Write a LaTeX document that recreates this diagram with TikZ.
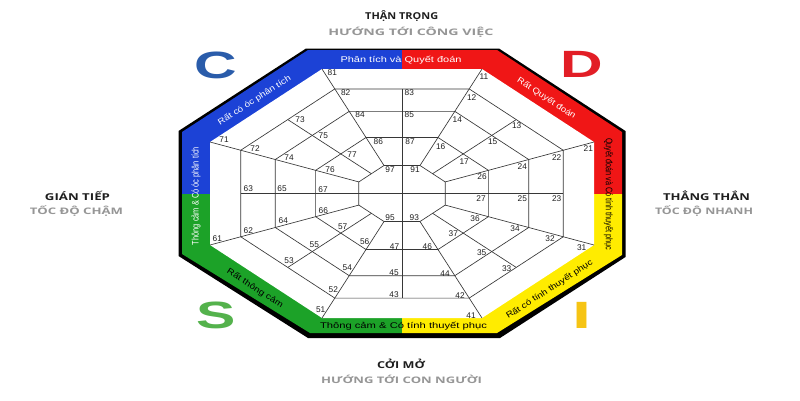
\documentclass[tikz,border=0pt]{standalone}
\usepackage{fontspec}
\usepackage{graphicx}
\setmainfont{Liberation Sans}
\newfontfamily\headfont{Open Sans}
\definecolor{discblue}{RGB}{28,66,214}
\definecolor{discred}{RGB}{240,22,22}
\definecolor{discgreen}{RGB}{28,162,40}
\definecolor{discyellow}{RGB}{255,236,0}
\definecolor{letC}{RGB}{42,92,170}
\definecolor{letD}{RGB}{226,30,38}
\definecolor{letS}{RGB}{84,178,76}
\definecolor{letI}{RGB}{246,196,20}
\definecolor{gridcol}{RGB}{55,55,55}
\definecolor{headgray}{RGB}{150,150,150}
\definecolor{headdark}{RGB}{30,30,30}
\newcommand{\fitw}[2]{\resizebox{#1}{\height}{#2}}
\begin{document}
\begin{tikzpicture}[x=1pt,y=-1pt,
  gridline/.style={draw=gridcol,line width=0.65pt},
  num/.style={inner sep=0pt,font=\fontsize{8.3}{9}\selectfont,text=headdark},
  txt/.style={inner sep=0pt,outer sep=0pt},
  headA/.style={txt,anchor=base,font=\headfont\bfseries\fontsize{9.5}{10}\selectfont,text=headdark},
  headB/.style={txt,anchor=base,font=\headfont\bfseries\fontsize{9}{10}\selectfont,text=headgray},
  bandtxt/.style={txt,font=\fontsize{8.3}{9}\selectfont},
  sidetxt/.style={txt,font=\fontsize{9.5}{10}\selectfont},
  bigletter/.style={txt,font=\bfseries\fontsize{38}{40}\selectfont}
]
\useasboundingbox (0,0) rectangle (800,400);
\fill[white] (0,0) rectangle (800,400);

% shadow outline
\fill[black] (306,48.5) -- (499,48.5) -- (625.5,131) -- (625.5,257) -- (500,338) -- (308,338) -- (178.5,256) -- (178.5,131) -- cycle;

% coloured band
\begin{scope}
\clip (308,50) -- (497,50) -- (622,132) -- (622,255) -- (497,333) -- (310,333) -- (182,254) -- (182,132) -- cycle;
\fill[discblue] (170,40) rectangle (402,193.5);
\fill[discred] (402,40) rectangle (640,193.5);
\fill[discgreen] (170,193.5) rectangle (402,345);
\fill[discyellow] (402,193.5) rectangle (640,345);
\end{scope}

% inner white octagon
\fill[white] (322,69) -- (482,69) -- (594,142) -- (594,245) -- (482,318) -- (322,318) -- (210,245) -- (210,142) -- cycle;

% rings
\foreach \s in {0.84,0.66,0.45,0.225}{
  \draw[gridline] (402-80*\s,193.5-124.5*\s) -- (402+80*\s,193.5-124.5*\s) -- (402+192*\s,193.5-51.5*\s) -- (402+192*\s,193.5+51.5*\s) -- (402+80*\s,193.5+124.5*\s) -- (402-80*\s,193.5+124.5*\s) -- (402-192*\s,193.5+51.5*\s) -- (402-192*\s,193.5-51.5*\s) -- cycle;
}
% radials
\foreach \dx/\dy in {-80/-124.5, 80/-124.5, 192/-51.5, 192/51.5, 80/124.5, -80/124.5, -192/51.5, -192/-51.5}{
  \draw[gridline] (402+\dx,193.5+\dy) -- (402+0.225*\dx,193.5+0.225*\dy);
}
% axes
\draw[gridline] (402,193.5-124.5*0.84) -- (402,193.5+124.5*0.84);
\draw[gridline] (402-192*0.84,193.5) -- (402+192*0.84,193.5);
% diagonal middle lines
\foreach \dx/\dy in {-136/-88, 136/-88, 136/88, -136/88}{
  \draw[gridline] (402+0.84*\dx,193.5+0.84*\dy) -- (402+0.225*\dx,193.5+0.225*\dy);
}

% numbers
\foreach \t/\x/\y in {81/332.3/72.3, 82/345.7/92.3, 84/360/115, 86/378.3/141.5, 97/390/169.5,
  83/409.3/92.3, 85/409.3/115, 87/410/141.5,
  73/300/120, 75/323.3/135.7, 77/352/154.3,
  71/224/140, 72/255/149, 74/289/158, 76/330/169.3,
  63/248.3/189, 65/282/189, 67/323/189.5,
  66/323.3/210.7, 64/283.3/221, 62/248.3/230.7, 61/217.3/238.3,
  57/342.7/227, 55/314.3/245, 53/289/261,
  56/364.7/241.3, 54/347.3/267.3, 52/333.3/289.3, 51/320.7/310,
  95/390/217.5, 47/394.5/246.3, 45/394/272.7, 43/394/295,
  11/484/76.7, 12/471.7/97.3, 14/457.3/120, 16/440.7/147, 91/415/170,
  13/516.7/126, 15/492.7/141.7, 17/464.2/161.7,
  21/588.3/148.3, 22/556.7/157.3, 24/522.3/166.7, 26/482/177,
  27/481/198.5, 25/522.3/198.3, 23/556.7/198.3,
  93/414.3/218, 36/475/219, 34/515/229, 32/550/239, 31/581.7/247.3,
  37/453.3/234, 35/481.7/252.3, 33/506.7/268.3,
  46/427.3/246.7, 44/445/273.3, 42/460/295.7, 41/471/315.7}{
  \node[num] (n\t) at (\x,\y) {\t};
}

% band labels
\node[bandtxt,anchor=base,text=white] (bt) at (401,62) {\fitw{121pt}{Phân tích và Quyết đoán}};
\node[bandtxt,text=white,rotate=32.9] (btl) at (254.5,100.5) {\fitw{85pt}{Rất có óc phân tích}};
\node[bandtxt,text=white,rotate=-32.9] (btr) at (546.5,98.5) {\fitw{68pt}{Rất Quyết đoán}};
\node[sidetxt,text=white,rotate=90] (bl) at (196,196) {\fitw{98pt}{Thông cảm \& Có óc phân tích}};
\node[sidetxt,text=black,rotate=-90] (br) at (608.5,194) {\fitw{112pt}{Quyết đoán và Có tính thuyết phục}};
\node[bandtxt,text=black] (bb) at (403.5,326) {\fitw{167pt}{Thông cảm \& Có tính thuyết phục}};
\node[bandtxt,text=black,rotate=-32.9] (bbl) at (255,288.5) {\fitw{65pt}{Rất thông cảm}};
\node[bandtxt,text=black,rotate=32.9] (bbr) at (549.5,289.5) {\fitw{101pt}{Rất có tính thuyết phục}};

% big letters
\node[bigletter,text=letC] (lc) at (216,65) {\scalebox{1.55}[1]{C}};
\node[bigletter,text=letD] (ld) at (582,64) {\scalebox{1.55}[1]{D}};
\node[bigletter,text=letS] (ls) at (216.5,315) {\scalebox{1.55}[1]{S}};
\node[bigletter,text=letI] (li) at (582,315) {\scalebox{1.8}[1]{I}};

% headings
\node[headA] (h1) at (401.7,19.5) {\fitw{73pt}{THẬN TRỌNG}};
\node[headB] (h2) at (410.8,35) {\fitw{165pt}{HƯỚNG TỚI CÔNG VIỆC}};
\node[headA] (h3) at (77.5,200) {\fitw{65pt}{GIÁN TIẾP}};
\node[headB] (h4) at (76.5,214.5) {\fitw{93pt}{TỐC ĐỘ CHẬM}};
\node[headA] (h5) at (706.5,200) {\fitw{87pt}{THẲNG THẮN}};
\node[headB] (h6) at (704,214.5) {\fitw{98pt}{TỐC ĐỘ NHANH}};
\node[headA] (h7) at (401,368.5) {\fitw{48pt}{CỞI MỞ}};
\node[headB] (h8) at (401.5,383.5) {\fitw{161pt}{HƯỚNG TỚI CON NGƯỜI}};
\end{tikzpicture}
\end{document}
